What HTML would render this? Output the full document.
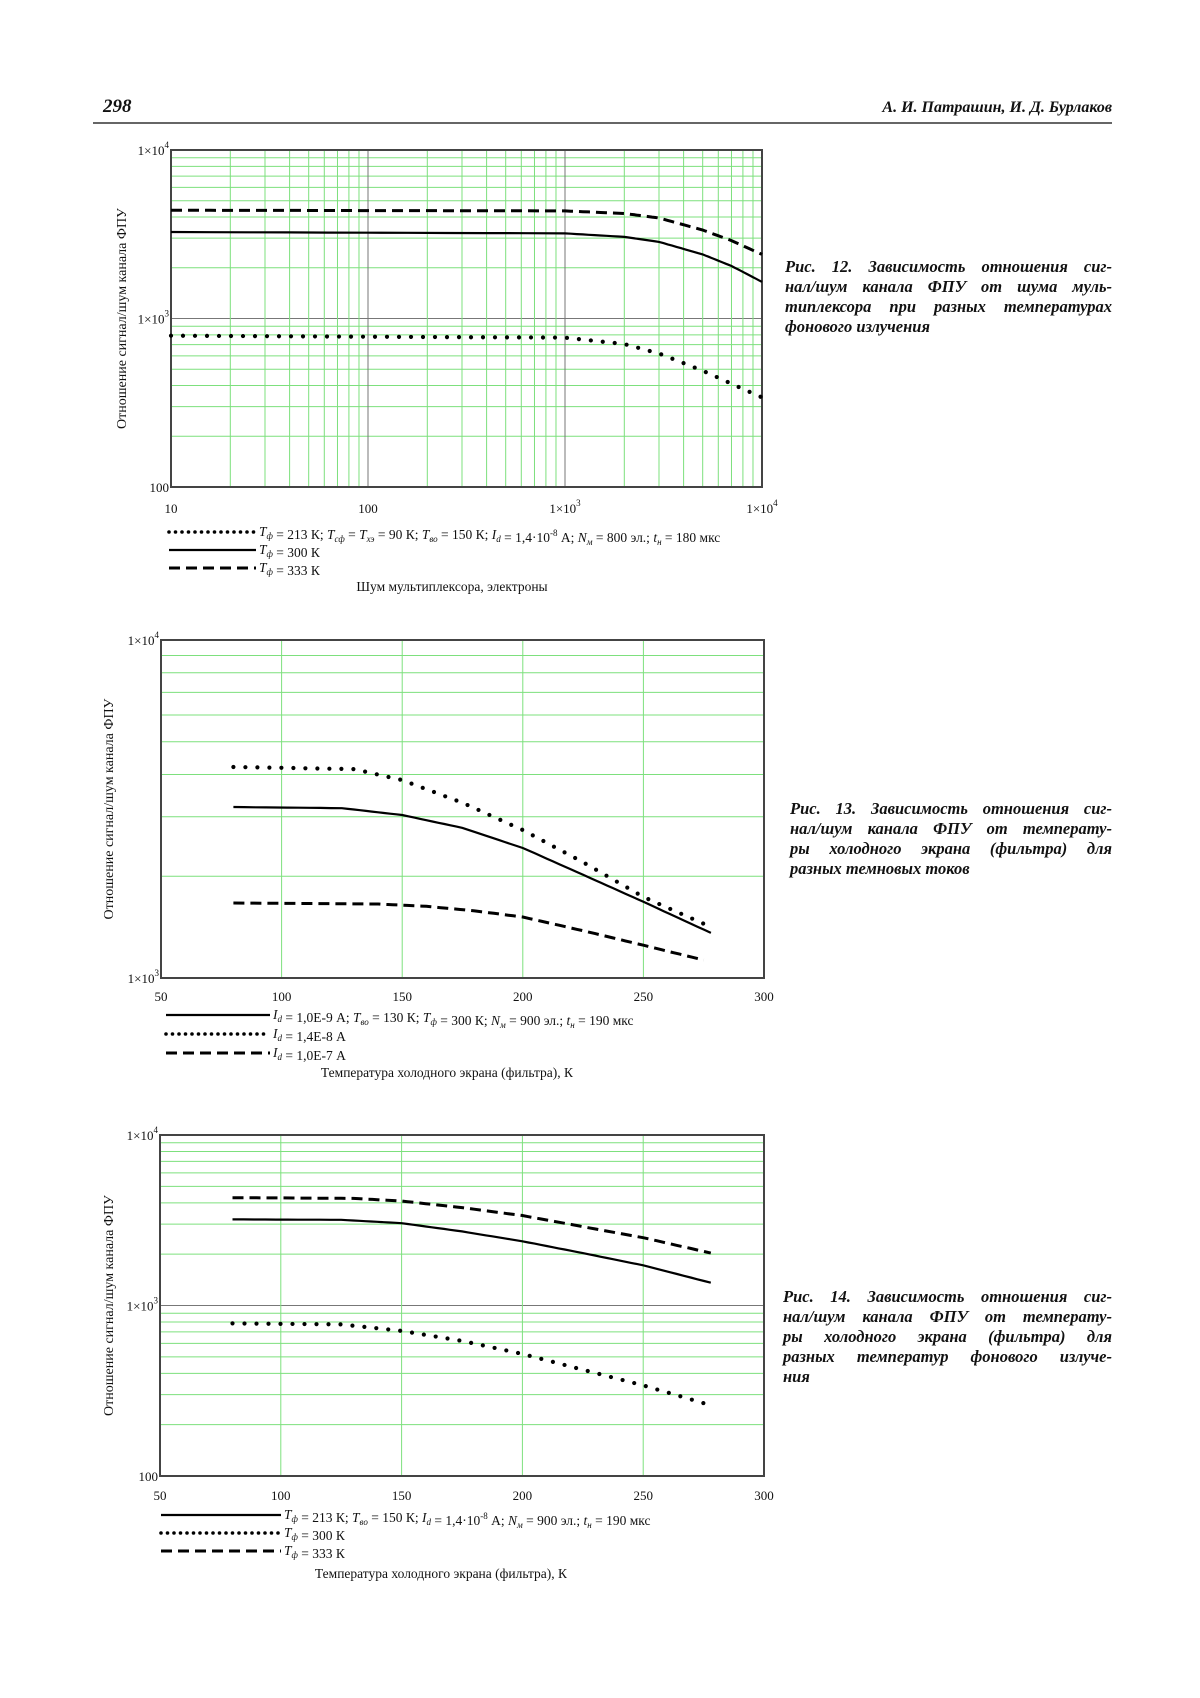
<!DOCTYPE html>
<html><head><meta charset="utf-8"><style>
html,body{margin:0;padding:0;background:#fff;}
svg{display:block;}
text{font-family:"Liberation Serif",serif;fill:#111;}
.cap{position:absolute;font-family:"Liberation Serif",serif;font-weight:bold;font-style:italic;font-size:16.5px;line-height:20px;color:#111;}
.cap div{text-align:justify;text-align-last:justify;white-space:nowrap;}
.cap div.l{text-align-last:left;}
</style></head><body>
<svg id="s" width="1200" height="1698" viewBox="0 0 1200 1698" xmlns="http://www.w3.org/2000/svg">
<text x="103" y="112" font-size="19" font-weight="bold" font-style="italic">298</text>
<text x="1112" y="112" font-size="16" font-weight="bold" font-style="italic" text-anchor="end">А. И. Патрашин, И. Д. Бурлаков</text>
<line x1="93" y1="123" x2="1112" y2="123" stroke="#333" stroke-width="1.5"/>
<g id="g"></g>
</svg>
<div class="cap" style="left:785px;top:257px;width:327px">
<div>Рис. 12. Зависимость отношения сиг-</div><div>нал/шум канала ФПУ от шума муль-</div><div>типлексора при разных температурах</div><div class="l">фонового излучения</div></div>
<div class="cap" style="left:790px;top:799px;width:322px">
<div>Рис. 13. Зависимость отношения сиг-</div><div>нал/шум канала ФПУ от температу-</div><div>ры холодного экрана (фильтра) для</div><div class="l">разных темновых токов</div></div>
<div class="cap" style="left:783px;top:1287px;width:329px">
<div>Рис. 14. Зависимость отношения сиг-</div><div>нал/шум канала ФПУ от температу-</div><div>ры холодного экрана (фильтра) для</div><div>разных температур фонового излуче-</div><div class="l">ния</div></div>
<script>
var NS="http://www.w3.org/2000/svg",G=document.getElementById("g");
function el(t,a,txt){var e=document.createElementNS(NS,t);for(var k in a)e.setAttribute(k,a[k]);if(txt!==undefined)e.innerHTML=txt;G.appendChild(e);return e;}
var DOT={stroke:"#000","stroke-width":4.2,"stroke-dasharray":"0 12","stroke-linecap":"round",fill:"none"};
var LDOT={stroke:"#000","stroke-width":3.6,"stroke-dasharray":"0 6.5","stroke-linecap":"round",fill:"none"};
var SOL={stroke:"#000","stroke-width":2.2,fill:"none"};
var DSH={stroke:"#000","stroke-width":3,"stroke-dasharray":"11 6",fill:"none"};
function plot(P){
  var L=P.l,R=P.r,T=P.t,B=P.b;
  function X(v){return P.xlog?L+(Math.log10(v)-Math.log10(P.x0))/(Math.log10(P.x1)-Math.log10(P.x0))*(R-L):L+(v-P.x0)/(P.x1-P.x0)*(R-L);}
  function Y(v){return B-(Math.log10(v)-Math.log10(P.y0))/(Math.log10(P.y1)-Math.log10(P.y0))*(B-T);}
  for(var d=P.y0;d<P.y1;d*=10){for(var m=2;m<=9;m++){var y=Y(d*m);el("line",{x1:L,x2:R,y1:y,y2:y,stroke:"#7de07d","stroke-width":1});}
    if(d>P.y0)el("line",{x1:L,x2:R,y1:Y(d),y2:Y(d),stroke:"#777","stroke-width":1});}
  if(P.xlog){for(var d=P.x0;d<P.x1;d*=10){for(var m=2;m<=9;m++){var x=X(d*m);el("line",{x1:x,x2:x,y1:T,y2:B,stroke:"#7de07d","stroke-width":1});}
    if(d>P.x0)el("line",{x1:X(d),x2:X(d),y1:T,y2:B,stroke:"#777","stroke-width":1});}}
  else{for(var v=P.x0+50;v<P.x1;v+=50){el("line",{x1:X(v),x2:X(v),y1:T,y2:B,stroke:"#7de07d","stroke-width":1});}}
  el("rect",{x:L,y:T,width:R-L,height:B-T,fill:"none",stroke:"#444","stroke-width":2});
  P.series.forEach(function(s){
    var pts=s.p,d="";
    for(var i=0;i<pts.length-1;i++){var a=pts[i],b=pts[i+1];
      for(var k=(i?1:0);k<=10;k++){var t=k/10;
        var xv=P.xlog?Math.pow(10,Math.log10(a[0])+(Math.log10(b[0])-Math.log10(a[0]))*t):a[0]+(b[0]-a[0])*t;
        var yv=Math.pow(10,Math.log10(a[1])+(Math.log10(b[1])-Math.log10(a[1]))*t);
        d+=(d?"L":"M")+X(xv).toFixed(1)+","+Y(yv).toFixed(1);}}
    el("path",Object.assign({d:d},s.st));});
  P.xl.forEach(function(t){el("text",{x:X(t[0]),y:P.xly,"font-size":13,"text-anchor":"middle"},t[1]);});
  P.yl.forEach(function(t){el("text",{x:L-2,y:Y(t[0])+5,"font-size":13,"text-anchor":"end"},t[1]);});
  el("text",{transform:"translate("+P.ylx+","+((T+B)/2)+") rotate(-90)","font-size":14,"text-anchor":"middle"},"Отношение сигнал/шум канала ФПУ");
  P.leg.forEach(function(g){var st=g[3]===DOT?LDOT:g[3];el("line",Object.assign({x1:g[0],x2:g[1],y1:g[2]-4,y2:g[2]-4},st));el("text",{x:g[1]+3,y:g[2],"font-size":13.5},g[4]);});
  el("text",{x:P.tx,y:P.ty,"font-size":13.5,"text-anchor":"middle"},P.title);
}
var e10="1×10<tspan dy='-7' font-size='9'>4</tspan>",e3="1×10<tspan dy='-7' font-size='9'>3</tspan>";
var Tf="<tspan font-style='italic'>T</tspan><tspan font-style='italic' font-size='9' dy='3'>ф</tspan><tspan dy='-3'></tspan>";
var Id="<tspan font-style='italic'>I</tspan><tspan font-style='italic' font-size='9' dy='3'>d</tspan><tspan dy='-3'></tspan>";
plot({l:171,r:762,t:150,b:487,xlog:1,x0:10,x1:1e4,y0:100,y1:1e4,xly:513,ylx:126,
 xl:[[10,"10"],[100,"100"],[1000,e3],[1e4,e10]],yl:[[1e4,e10],[1000,e3],[100,"100"]],
 series:[
  {st:DSH,p:[[10,4390],[1000,4350],[2000,4200],[3000,3950],[5000,3350],[7000,2900],[1e4,2400]]},
  {st:SOL,p:[[10,3260],[1000,3200],[2000,3050],[3000,2850],[5000,2400],[7000,2050],[1e4,1650]]},
  {st:DOT,p:[[10,790],[1000,770],[2000,705],[3000,620],[5000,490],[7000,410],[1e4,340]]}],
 leg:[[169,256,536,DOT,Tf+" = 213 К; <tspan font-style='italic'>T</tspan><tspan font-size='9' dy='3' font-style='italic'>сф</tspan><tspan dy='-3'> = </tspan><tspan font-style='italic'>T</tspan><tspan font-size='9' dy='3' font-style='italic'>хэ</tspan><tspan dy='-3'> = 90 К; </tspan><tspan font-style='italic'>T</tspan><tspan font-size='9' dy='3' font-style='italic'>во</tspan><tspan dy='-3'> = 150 К; </tspan>"+Id+" = 1,4·10<tspan dy='-6' font-size='9'>-8</tspan><tspan dy='6'> А; </tspan><tspan font-style='italic'>N</tspan><tspan font-size='9' dy='3' font-style='italic'>м</tspan><tspan dy='-3'> = 800 эл.; </tspan><tspan font-style='italic'>t</tspan><tspan font-size='9' dy='3' font-style='italic'>н</tspan><tspan dy='-3'> = 180 мкс</tspan>"],
  [169,256,554,SOL,Tf+" = 300 К"],[169,256,572,DSH,Tf+" = 333 К"]],
 tx:452,ty:591,title:"Шум мультиплексора, электроны"});
plot({l:161,r:764,t:640,b:978,xlog:0,x0:50,x1:300,y0:1000,y1:1e4,xly:1001,ylx:113,
 xl:[[50,"50"],[100,"100"],[150,"150"],[200,"200"],[250,"250"],[300,"300"]],yl:[[1e4,e10],[1000,e3]],
 series:[
  {st:DOT,p:[[80,4210],[130,4150],[150,3850],[175,3300],[200,2740],[225,2200],[250,1737],[278,1415]]},
  {st:SOL,p:[[80,3205],[125,3180],[150,3035],[175,2780],[200,2425],[225,2020],[250,1680],[278,1360]]},
  {st:DSH,p:[[80,1667],[140,1655],[160,1630],[180,1580],[200,1515],[225,1380],[250,1250],[275,1130]]}],
 leg:[[166,270,1019,SOL,Id+" = 1,0Е-9 А; <tspan font-style='italic'>T</tspan><tspan font-size='9' dy='3' font-style='italic'>во</tspan><tspan dy='-3'> = 130 К; </tspan>"+Tf+" = 300 К; <tspan font-style='italic'>N</tspan><tspan font-size='9' dy='3' font-style='italic'>м</tspan><tspan dy='-3'> = 900 эл.; </tspan><tspan font-style='italic'>t</tspan><tspan font-size='9' dy='3' font-style='italic'>н</tspan><tspan dy='-3'> = 190 мкс</tspan>"],
  [166,270,1038,DOT,Id+" = 1,4Е-8 А"],[166,270,1057,DSH,Id+" = 1,0Е-7 А"]],
 tx:447,ty:1077,title:"Температура холодного экрана (фильтра), К"});
plot({l:160,r:764,t:1135,b:1476,xlog:0,x0:50,x1:300,y0:100,y1:1e4,xly:1500,ylx:113,
 xl:[[50,"50"],[100,"100"],[150,"150"],[200,"200"],[250,"250"],[300,"300"]],yl:[[1e4,e10],[1000,e3],[100,"100"]],
 series:[
  {st:DSH,p:[[80,4290],[130,4250],[150,4100],[175,3750],[200,3370],[225,2900],[250,2500],[278,2030]]},
  {st:SOL,p:[[80,3200],[125,3180],[150,3040],[175,2720],[200,2380],[225,2030],[250,1720],[278,1360]]},
  {st:DOT,p:[[80,785],[125,775],[150,710],[175,620],[200,520],[225,420],[250,340],[278,260]]}],
 leg:[[161,281,1519,SOL,Tf+" = 213 К; <tspan font-style='italic'>T</tspan><tspan font-size='9' dy='3' font-style='italic'>во</tspan><tspan dy='-3'> = 150 К; </tspan>"+Id+" = 1,4·10<tspan dy='-6' font-size='9'>-8</tspan><tspan dy='6'> А; </tspan><tspan font-style='italic'>N</tspan><tspan font-size='9' dy='3' font-style='italic'>м</tspan><tspan dy='-3'> = 900 эл.; </tspan><tspan font-style='italic'>t</tspan><tspan font-size='9' dy='3' font-style='italic'>н</tspan><tspan dy='-3'> = 190 мкс</tspan>"],
  [161,281,1537,DOT,Tf+" = 300 К"],[161,281,1555,DSH,Tf+" = 333 К"]],
 tx:441,ty:1578,title:"Температура холодного экрана (фильтра), К"});
</script>
</body></html>
